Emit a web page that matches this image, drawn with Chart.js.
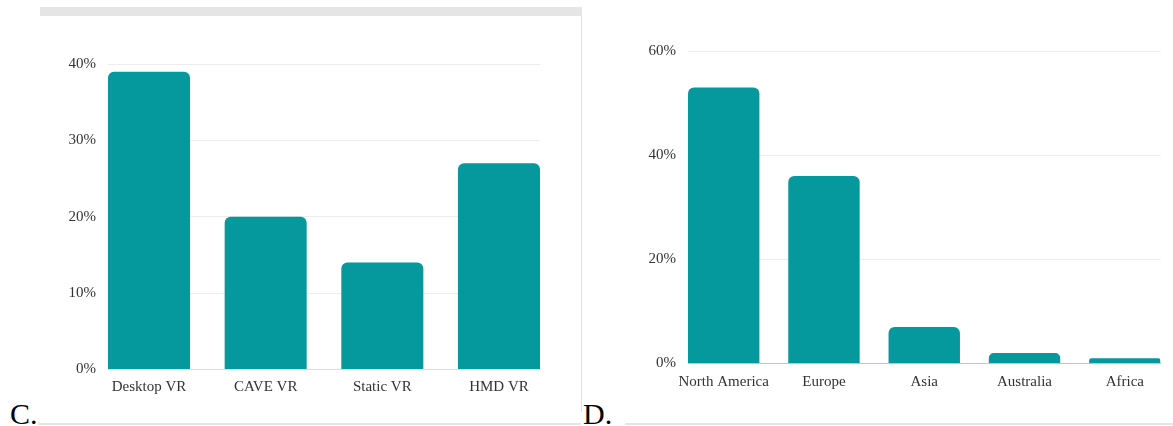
<!DOCTYPE html>
<html>
<head>
<meta charset="utf-8">
<script src="https://cdn.jsdelivr.net/npm/chart.js@4.4.1/dist/chart.umd.min.js"></script>
<style>
  html, body { margin: 0; padding: 0; background: #fff; }
  body { width: 1173px; height: 426px; position: relative; overflow: hidden; font-family: "Liberation Serif", "Times New Roman", serif; }
  .strip { position: absolute; left: 40px; top: 7px; width: 542px; height: 9px; background: #e5e5e5; }
  .vline { position: absolute; left: 581px; top: 16px; width: 1px; height: 396px; background: #e2e2e2; }
  .hline { position: absolute; top: 423px; height: 2px; background: #e5e5e5; }
  .tag { position: absolute; top: 399px; font-size: 30px; line-height: 30px; color: #000; }
  .box { position: absolute; top: 16px; height: 390px; }
</style>
</head>
<body>
<div class="strip"></div>
<div class="vline"></div>
<div class="hline" style="left:38px;width:543px"></div>
<div class="hline" style="left:625px;width:548px"></div>
<div class="tag" style="left:10px">C.</div>
<div class="tag" style="left:583px">D.</div>
<div class="box" style="left:40px;width:540px"><canvas id="chartC"></canvas></div>
<div class="box" style="left:583px;width:590px"><canvas id="chartD"></canvas></div>
<script>
// Panel C: VR display types
const vrTypes = ['Desktop VR', 'CAVE VR', 'Static VR', 'HMD VR'];
const vrShares = [39, 20, 14, 27];
const vrTicks = [0, 10, 20, 30, 40];

// Panel D: regions
const regions = ['North America', 'Europe', 'Asia', 'Australia', 'Africa'];
const regionShares = [53, 36, 7, 2, 1];
const regionTicks = [0, 20, 40, 60];

const TEAL = '#05989d';
Chart.defaults.font.family = '"Liberation Serif", "Times New Roman", serif';
Chart.defaults.font.size = 15;
Chart.defaults.color = '#333';

function makeBarChart(id, labels, values, yTicks, opts) {
  const half = opts.barFrac / 2;
  return new Chart(document.getElementById(id), {
    type: 'bar',
    data: {
      datasets: [{
        data: values.map((v, i) => ({ x: i, y: v })),
        backgroundColor: TEAL,
        borderRadius: 6,
        borderSkipped: 'start',
        categoryPercentage: 1,
        barPercentage: opts.barFrac
      }]
    },
    options: {
      responsive: true,
      maintainAspectRatio: false,
      animation: false,
      plugins: { legend: { display: false }, tooltip: { enabled: false } },
      layout: { padding: { left: 0, right: opts.padRight, top: opts.padTop, bottom: 0 } },
      scales: {
        x: {
          type: 'linear',
          offset: false,
          min: -half,
          max: labels.length - 1 + half,
          grid: { display: false, offset: false },
          border: { display: true, color: opts.baseColor, width: 1 },
          afterBuildTicks: s => { s.ticks = labels.map((_, i) => ({ value: i })); },
          afterFit: s => { s.height = opts.xHeight; },
          ticks: {
            padding: opts.xPad,
            maxRotation: 0,
            autoSkip: false,
            callback: v => labels[v]
          }
        },
        y: {
          min: yTicks[0],
          max: yTicks[yTicks.length - 1],
          afterBuildTicks: s => { s.ticks = yTicks.map(v => ({ value: v })); },
          afterFit: s => { s.width = opts.yWidth; },
          grid: { color: '#ececec', drawTicks: false },
          border: { display: false },
          ticks: { padding: 12, callback: v => v + '%' }
        }
      }
    }
  });
}

makeBarChart('chartC', vrTypes, vrShares, vrTicks,
  { barFrac: 0.703, padRight: 40, padTop: 48, xHeight: 36.5, yWidth: 68, baseColor: '#dcdcdc', xPad: 1 });
makeBarChart('chartD', regions, regionShares, regionTicks,
  { barFrac: 0.712, padRight: 12.5, padTop: 35, xHeight: 42.5, yWidth: 105, baseColor: '#c4c4c4', xPad: 2 });
</script>
</body>
</html>
